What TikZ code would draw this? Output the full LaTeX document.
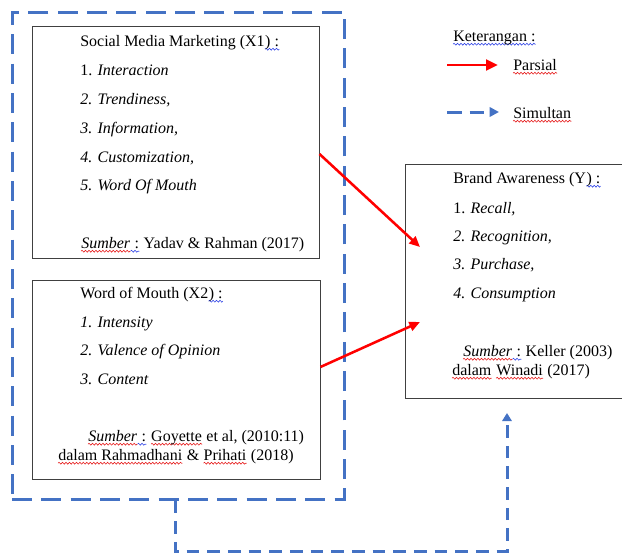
\documentclass[tikz,border=0pt]{standalone}
\usepackage{fontspec}
\setmainfont{Liberation Serif}
\usetikzlibrary{arrows.meta,fit,decorations.pathmorphing}
\definecolor{wordblue}{RGB}{68,114,196}
\definecolor{sqred}{RGB}{230,30,30}
\definecolor{sqblue}{RGB}{50,70,230}
\begin{document}
\begin{tikzpicture}[x=0.75pt,y=-0.75pt,
 box/.style={draw=black!75, line width=0.75pt, inner sep=0pt},
 txt/.style={anchor=base west, inner sep=0pt, font=\fontsize{12}{14}\selectfont},
 sqline/.style={draw=#1, line width=0.45pt, decorate, decoration={snake, amplitude=0.7pt, segment length=2.6pt}},
 sqr/.style={txt, append after command={\pgfextra{\draw[sqline=sqred] ([yshift=-2.4pt]\tikzlastnode.base west) -- ([yshift=-2.4pt]\tikzlastnode.base east);}}},
 sqb/.style={txt, append after command={\pgfextra{\draw[sqline=sqblue] ([yshift=-2.4pt]\tikzlastnode.base west) -- ([yshift=-2.4pt]\tikzlastnode.base east);}}},
 group/.style={draw=wordblue, line width=2.25pt, dash pattern=on 15pt off 7pt, inner sep=0pt},
 parsial/.style={draw=red, line width=1.9pt, -{Triangle[length=8pt,width=7pt]}},
 legparsial/.style={draw=red, line width=2.1pt, -{Triangle[length=9pt,width=8pt]}},
 simul/.style={draw=wordblue, line width=2.25pt, dash pattern=on 9.5pt off 6pt, -{Triangle[length=6pt,width=7pt]}},
 legsimul/.style={draw=wordblue, line width=2.25pt, dash pattern=on 11pt off 6pt, -{Triangle[length=7pt,width=7pt]}}]
\useasboundingbox (0,0) rectangle (622,553);
% group and boxes
\node[group, fit={(12,12) (344,499)}] (grp) {};
\node[box, fit={(32,26) (319,258)}] (x1) {};
\node[box, fit={(32,280) (320,479)}] (x2) {};
\node[box, fit={(405,164) (625,398)}] (y) {};
% box 1 text
\node[txt] (t1) at (80,46) {Social Media Marketing (X1};
\node[sqb] (t1q) at (t1.base east) {) :};
\node[txt] (t1a) at (80,75) {1. \textit{Interaction}};
\node[txt] (t1b) at (80,104) {\textit{2. Trendiness,}};
\node[txt] (t1c) at (80,133) {\textit{3. Information,}};
\node[txt] (t1d) at (80,162) {\textit{4. Customization,}};
\node[txt] (t1e) at (80,190) {\textit{5. Word Of Mouth}};
\node[sqr] (t1s1) at (81,248) {\textit{Sumber}};
\node[sqb] (t1s2) at (t1s1.base east) {\ :};
\node[txt] (t1s3) at (t1s2.base east) {\ Yadav \& Rahman (2017)};
% box 2 text
\node[txt] (t2) at (80,298) {Word of Mouth (X2};
\node[sqb] (t2q) at (t2.base east) {) :};
\node[txt] (t2a) at (80,327) {\textit{1. Intensity}};
\node[txt] (t2b) at (80,355) {\textit{2. Valence of Opinion}};
\node[txt] (t2c) at (80,384) {\textit{3. Content}};
\node[sqr] (t2s1) at (88,441) {\textit{Sumber}};
\node[sqb] (t2s2) at (t2s1.base east) {\ :};
\node[txt] (t2s3) at (t2s2.base east) {\ \null};
\node[sqr] (t2s4) at (t2s3.base east) {Goyette};
\node[txt] (t2s5) at (t2s4.base east) {\ et al, (2010:11)};
\node[sqr] (t2d1) at (58,460) {dalam Rahmadhani};
\node[txt] (t2d2) at (t2d1.base east) {\ \&\ \null};
\node[sqr] (t2d3) at (t2d2.base east) {Prihati};
\node[txt] (t2d4) at (t2d3.base east) {\ (2018)};
% box Y text
\node[txt] (ty) at (453,183) {Brand Awareness (Y};
\node[sqb] (tyq) at (ty.base east) {) :};
\node[txt] (tya) at (453,213) {1. \textit{Recall,}};
\node[txt] (tyb) at (453,241) {\textit{2. Recognition,}};
\node[txt] (tyc) at (453,269) {\textit{3. Purchase,}};
\node[txt] (tyd) at (453,298) {\textit{4. Consumption}};
\node[sqr] (tys1) at (463,356) {\textit{Sumber}};
\node[sqb] (tys2) at (tys1.base east) {\ :};
\node[txt] (tys3) at (tys2.base east) {\ Keller (2003)};
\node[sqr] (tyd1) at (452,375) {dalam};
\node[txt] (tyd2) at (tyd1.base east) {\ \null};
\node[sqr] (tyd3) at (tyd2.base east) {Winadi};
\node[txt] (tyd4) at (tyd3.base east) {\ (2017)};
% legend
\node[sqb] (lk) at (453,41) {Keterangan :};
\node[sqr] (lp) at (513,70) {Parsial};
\node[sqr] (ls) at (513,118) {Simultan};
\coordinate (lr1) at (447,65);
\coordinate (lr2) at (498,65);
\coordinate (lb1) at (447,112);
\coordinate (lb2) at (499,112);
\draw[legparsial] (lr1) -- (lr2);
\draw[legsimul] (lb1) -- (lb2);
% partial arrows
\coordinate (p1) at (420,247);
\coordinate (p2) at (420,322);
\draw[parsial] ([yshift=-9pt]x1.east) -- (p1);
\draw[parsial] ([yshift=9.4pt]x2.east) -- (p2);
% simultaneous arrow
\coordinate (sd) at (175,551);
\coordinate (sr) at (507,551);
\coordinate (stip) at (507,413);
\draw[simul] (grp.south -| sd) -- (sd) -- (sr) -- (stip);
\end{tikzpicture}
\end{document}
